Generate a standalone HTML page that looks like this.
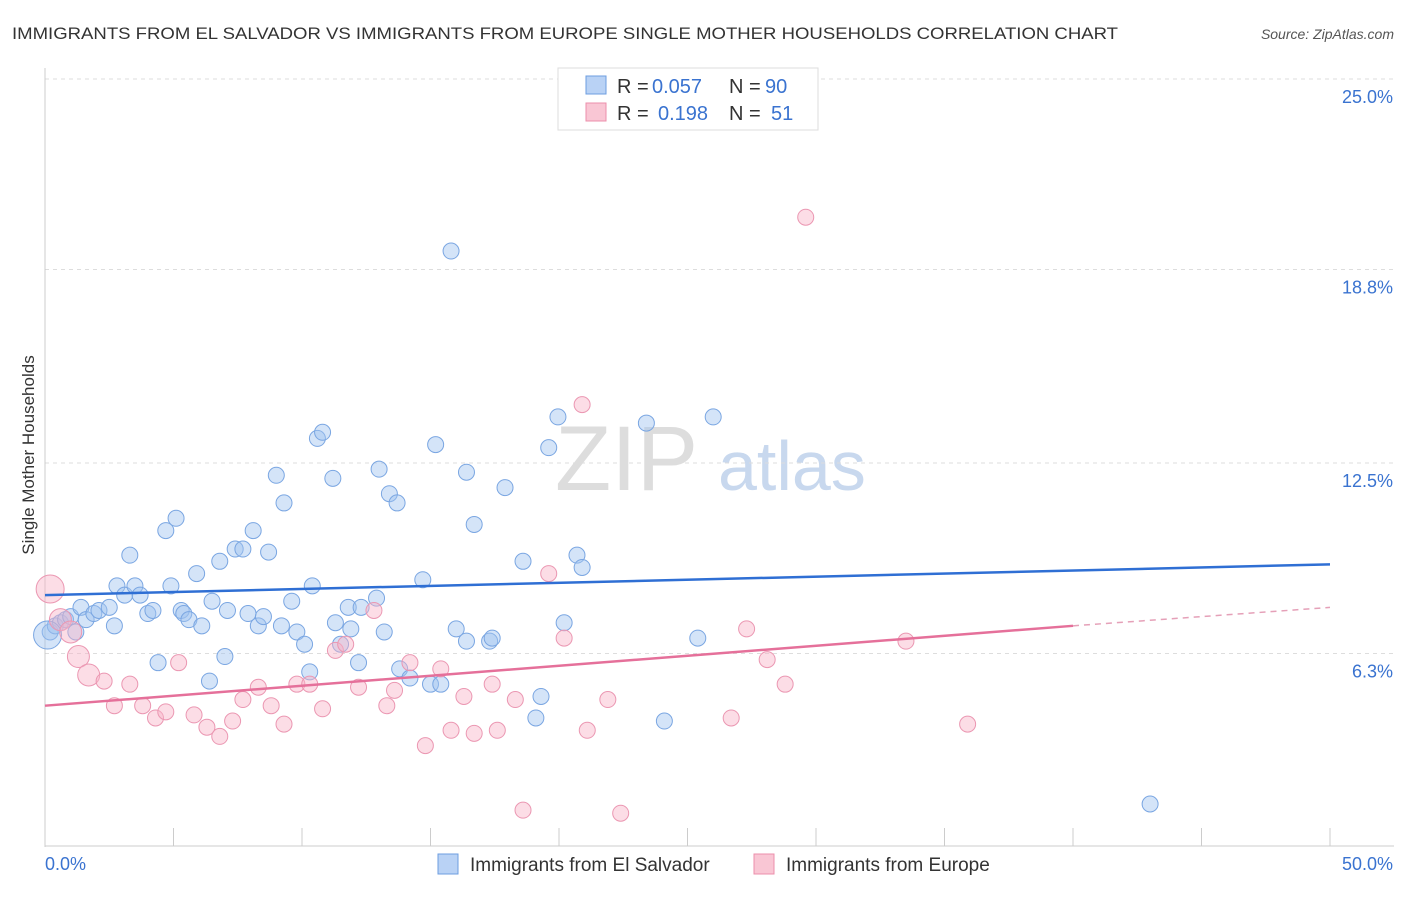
<!DOCTYPE html>
<html><head><meta charset="utf-8"><style>
body{margin:0;background:#fff;font-family:"Liberation Sans",sans-serif}
svg text{font-family:"Liberation Sans",sans-serif}
</style></head><body>
<svg width="1406" height="892" viewBox="0 0 1406 892">
<text x="12" y="39" font-size="17" fill="#333" textLength="1106" lengthAdjust="spacingAndGlyphs">IMMIGRANTS FROM EL SALVADOR VS IMMIGRANTS FROM EUROPE SINGLE MOTHER HOUSEHOLDS CORRELATION CHART</text>
<text x="1394" y="39" font-size="14" fill="#555" text-anchor="end" font-style="italic">Source: ZipAtlas.com</text>
<text x="555" y="490" font-size="92" fill="#ddd" font-family="Liberation Serif">ZIP</text>
<text x="718" y="490" font-size="70" fill="#c8d8ee">atlas</text>
<g id="grid"></g><g id="axes"></g><g id="pts"></g><g id="trend"></g>
<text transform="translate(34,455) rotate(-90)" font-size="17" fill="#333" text-anchor="middle">Single Mother Households</text>
<g>
<rect x="558" y="68" width="260" height="62" fill="#fff" stroke="#ddd"/>
<rect x="586" y="76" width="20" height="18" fill="#b9d2f5" stroke="#6d9ee0"/>
<rect x="586" y="103" width="20" height="18" fill="#f9c6d4" stroke="#ec8fab"/>
<text x="617" y="93" font-size="20" fill="#333">R =</text>
<text x="652" y="93" font-size="20" fill="#3a73d0">0.057</text>
<text x="729" y="93" font-size="20" fill="#333">N =</text>
<text x="765" y="93" font-size="20" fill="#3a73d0">90</text>
<text x="617" y="120" font-size="20" fill="#333">R =</text>
<text x="658" y="120" font-size="20" fill="#3a73d0">0.198</text>
<text x="729" y="120" font-size="20" fill="#333">N =</text>
<text x="771" y="120" font-size="20" fill="#3a73d0">51</text>
</g>
<g>
<rect x="438" y="854" width="20" height="20" fill="#b9d2f5" stroke="#6d9ee0"/>
<text x="470" y="871" font-size="19" fill="#333">Immigrants from El Salvador</text>
<rect x="754" y="854" width="20" height="20" fill="#f9c6d4" stroke="#ec8fab"/>
<text x="786" y="871" font-size="19" fill="#333">Immigrants from Europe</text>
</g>
</svg>
<script>
const yTicks=[25.0,18.8,12.5,6.3];
const yTickLabels=["25.0%","18.8%","12.5%","6.3%"];
const blueX=[0.2,0.4,0.6,0.8,1.0,1.2,1.4,1.6,1.9,2.1,2.5,2.7,2.8,3.1,3.3,3.5,3.7,4.0,4.2,4.4,4.7,4.9,5.1,5.3,5.4,5.6,5.9,6.1,6.4,6.5,6.8,7.0,7.1,7.4,7.7,7.9,8.1,8.3,8.5,8.7,9.0,9.2,9.3,9.6,9.8,10.1,10.3,10.4,10.6,10.8,11.2,11.3,11.5,11.8,11.9,12.2,12.3,12.9,13.0,13.2,13.4,13.7,13.8,14.2,14.7,15.0,15.4,15.2,15.8,16.0,16.4,16.4,16.7,17.3,17.4,17.9,18.6,19.1,19.3,19.6,19.959,20.2,20.7,20.9,23.4,24.1,25.4,26.0,43.0,0.1];
const blueY=[7.0,7.2,7.3,7.4,7.5,7.0,7.8,7.4,7.6,7.7,7.8,7.2,8.5,8.2,9.5,8.5,8.2,7.6,7.7,6.0,10.3,8.5,10.7,7.7,7.6,7.4,8.9,7.2,5.4,8.0,9.3,6.2,7.7,9.7,9.7,7.6,10.3,7.2,7.5,9.6,12.1,7.2,11.2,8.0,7.0,6.6,5.7,8.5,13.3,13.5,12.0,7.3,6.6,7.8,7.1,6.0,7.8,8.1,12.3,7.0,11.5,11.2,5.8,5.5,8.7,5.3,5.3,13.1,19.4,7.1,12.2,6.7,10.5,6.7,6.8,11.7,9.3,4.2,4.9,13.0,14.0,7.3,9.5,9.1,13.8,4.1,6.8,14.0,1.4,6.9];
const pinkX=[0.2,0.6,1.0,1.3,1.7,2.3,2.7,3.3,3.8,4.3,4.7,5.2,5.8,6.3,6.8,7.3,7.7,8.3,8.8,9.3,9.8,10.3,10.8,11.3,11.7,12.2,12.8,13.3,13.6,14.2,14.8,15.4,15.8,16.3,16.7,17.4,17.6,18.3,18.6,19.6,20.2,21.1,21.9,22.4,26.7,27.3,28.1,28.8,29.6,33.5,35.9,20.9];
const pinkY=[8.4,7.4,7.0,6.2,5.6,5.4,4.6,5.3,4.6,4.2,4.4,6.0,4.3,3.9,3.6,4.1,4.8,5.2,4.6,4.0,5.3,5.3,4.5,6.4,6.6,5.2,7.7,4.6,5.1,6.0,3.3,5.8,3.8,4.9,3.7,5.3,3.8,4.8,1.2,8.9,6.8,3.8,4.8,1.1,4.2,7.1,6.1,5.3,20.5,6.7,4.0,14.4];
const blueTrend=[[0,8.2],[50,9.2]];
const pinkTrend=[[0,4.6],[40,7.2],[50,7.8]];
const NS="http://www.w3.org/2000/svg";
const X0=45,X1=1330,Y0=847,Y25=79;
const sx=v=>X0+(v/50)*(X1-X0);
const sy=v=>Y0-(v/25)*(Y0-Y25);
function mk(t,a,p){const e=document.createElementNS(NS,t);for(const k in a)e.setAttribute(k,a[k]);p.appendChild(e);return e;}
const grid=document.getElementById('grid'),axes=document.getElementById('axes'),pts=document.getElementById('pts'),tr=document.getElementById('trend');
yTicks.forEach((t,i)=>{
 const l=mk('line',{x1:X0,x2:1394,y1:sy(t),y2:sy(t),stroke:'#ddd','stroke-dasharray':'4,4'},grid);
 
 
 const tx=mk('text',{x:1393,y:sy(t)+24,'font-size':18,fill:'#3a73d0','text-anchor':'end'},grid);
 tx.textContent=yTickLabels[i];
 
 
});
mk('line',{x1:X0,x2:X0,y1:68,y2:847,stroke:'#ccc'},axes);
mk('line',{x1:X0,x2:1394,y1:846,y2:846,stroke:'#ccc'},axes);
for(let i=0;i<=10;i++){const x=sx(i*5);const t=mk('line',{x1:x,x2:x,y1:828,y2:846,stroke:'#ccc'},axes);}
const xl0=mk('text',{x:45,y:870,'font-size':18,fill:'#3a73d0'},axes);xl0.textContent='0.0%';


const xl1=mk('text',{x:1393,y:870,'font-size':18,fill:'#3a73d0','text-anchor':'end'},axes);xl1.textContent='50.0%';


blueX.forEach((v,i)=>{const c=mk('circle',{cx:sx(v),cy:sy(blueY[i]),r:i==blueX.length-1?14:8,fill:'rgba(160,195,240,0.45)',stroke:'#7aa6e2','stroke-width':1},pts);

});
pinkX.forEach((v,i)=>{const c=mk('circle',{cx:sx(v),cy:sy(pinkY[i]),r:i==0?14:(i<5?11:8),fill:'rgba(248,180,200,0.45)',stroke:'#eb97b2','stroke-width':1},pts);

});
const bl=mk('line',{x1:sx(blueTrend[0][0]),y1:sy(blueTrend[0][1]),x2:sx(blueTrend[1][0]),y2:sy(blueTrend[1][1]),stroke:'#2f6fd4','stroke-width':2.5},tr);


const pl=mk('line',{x1:sx(pinkTrend[0][0]),y1:sy(pinkTrend[0][1]),x2:sx(pinkTrend[1][0]),y2:sy(pinkTrend[1][1]),stroke:'#e5709a','stroke-width':2.5},tr);


const pd=mk('line',{x1:sx(pinkTrend[1][0]),y1:sy(pinkTrend[1][1]),x2:sx(pinkTrend[2][0]),y2:sy(pinkTrend[2][1]),stroke:'#e5a0b8','stroke-width':1.5,'stroke-dasharray':'6,5'},tr);


</script>
</body></html>
